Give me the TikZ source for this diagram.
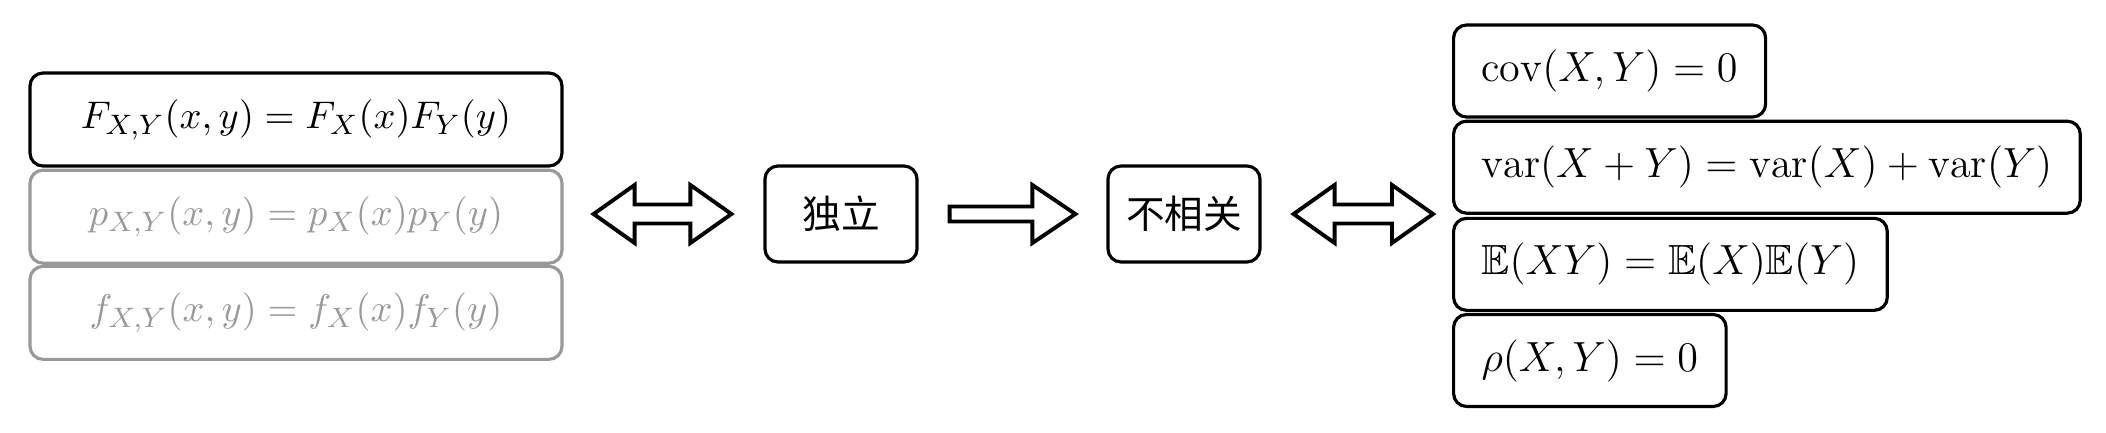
\documentclass[tikz,border=0pt]{standalone}
\usepackage{amsmath}
\usepackage{amssymb}
\usepackage{fontspec}
\newfontfamily\cjk{Noto Sans CJK SC}
\usetikzlibrary{calc,positioning}

% hollow block arrows between two named coordinates
\newcommand{\dblarrow}[2]{%
  \draw[blockarr] (#1) -- ++(0.41,0.29) -- ++(0,-0.195) -- ($(#2)+(-0.41,0.095)$) -- ++(0,0.195) -- (#2)
    -- ++(-0.41,-0.29) -- ++(0,0.195) -- ($(#1)+(0.41,-0.095)$) -- ++(0,-0.195) -- cycle;}
\newcommand{\sglarrow}[2]{%
  \draw[blockarr] (#1) ++(0,0.075) -- ($(#2)+(-0.43,0.075)$) -- ++(0,0.215) -- (#2)
    -- ++(-0.43,-0.29) -- ++(0,0.215) -- ($(#1)+(0,-0.075)$) -- cycle;}

\begin{document}
\begin{tikzpicture}[
    font=\fontsize{12}{14}\selectfont,
    box/.style={draw,line width=0.9pt,rounded corners=0.13cm,fill=white},
    condbox/.style={box,minimum width=5.32cm,minimum height=0.93cm,inner sep=0pt,font=\fontsize{11.4}{14}\selectfont},
    faded/.style={draw=black!40,text=black!40},
    midbox/.style={box,minimum width=1.52cm,minimum height=0.96cm,font=\cjk\fontsize{11}{13}\selectfont},
    eqbox/.style={box,minimum height=0.92cm,inner xsep=0.28cm,anchor=west},
    blockarr/.style={line width=1.1pt,fill=white,line join=miter}]
    \useasboundingbox (0,0) rectangle (21.06,4.32);
    % Independence: joint = product of marginals
    \node[condbox] (cdf) at (2.96,3.125) {$F_{X,Y}(x,y)=F_X(x)F_Y(y)$};
    \node[condbox,faded,below=0.01cm of cdf] (pmf) {$p_{X,Y}(x,y)=p_X(x)p_Y(y)$};
    \node[condbox,faded,below=0cm of pmf] (pdf) {$f_{X,Y}(x,y)=f_X(x)f_Y(y)$};
    % Middle boxes
    \node[midbox] (indep) at (8.41,2.18) {独立};
    \node[midbox] (uncor) at (11.84,2.18) {不相关};
    % Uncorrelated: equivalent conditions
    \node[eqbox] (cov) at (14.52,3.61) {$\mathrm{cov}(X,Y)=0$};
    \node[eqbox,below right=0.01cm and 0cm of cov.south west] (var) {$\mathrm{var}(X+Y)=\mathrm{var}(X)+\mathrm{var}(Y)$};
    \node[eqbox,below right=0.02cm and 0cm of var.south west] (expc) {$\mathbb{E}(XY)=\mathbb{E}(X)\mathbb{E}(Y)$};
    \node[eqbox,below right=0.01cm and 0cm of expc.south west] (rho) {$\rho(X,Y)=0$};
    % Arrows
    \coordinate[left=0.32cm of indep] (a2);
    \coordinate (a1) at ($(a2 -| pmf.east)+(0.3,0)$);
    \coordinate[right=0.31cm of indep] (b1);
    \coordinate[left=0.31cm of uncor] (b2);
    \coordinate[right=0.32cm of uncor] (c1);
    \coordinate (c2) at ($(uncor.east -| var.west)+(-0.19,0)$);
    \dblarrow{a1}{a2}
    \sglarrow{b1}{b2}
    \dblarrow{c1}{c2}
\end{tikzpicture}
\end{document}
